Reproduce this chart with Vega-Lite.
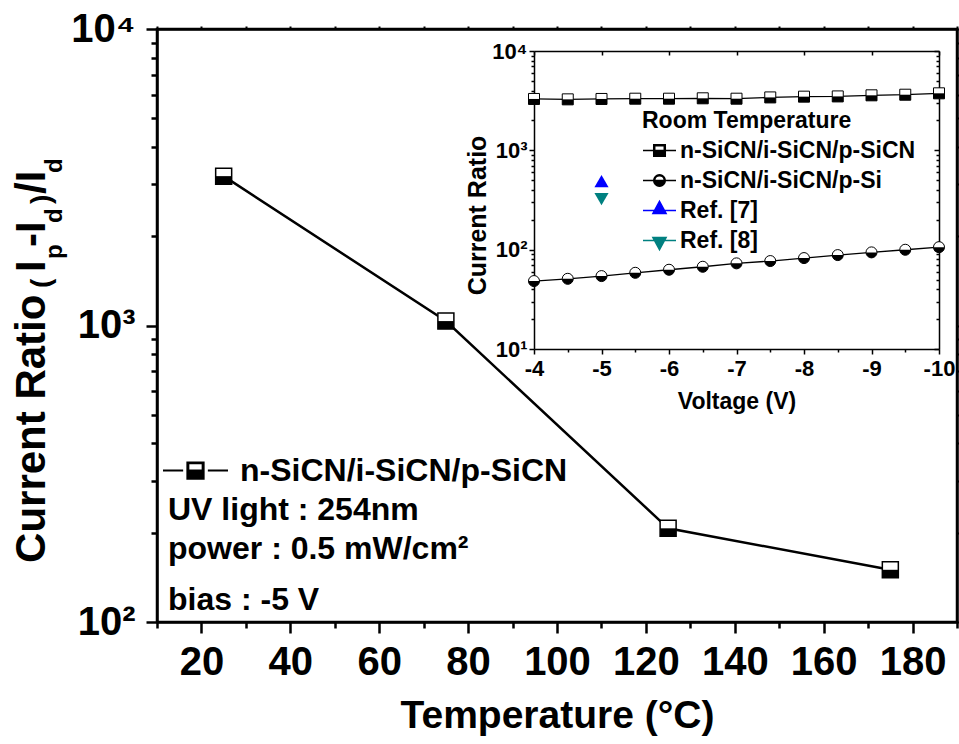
{
  "$schema": "https://vega.github.io/schema/vega-lite/v6.json",
  "width": 800,
  "height": 593,
  "autosize": {"type": "none"},
  "padding": {"left": 157, "top": 29, "right": 2, "bottom": 122},
  "background": "white",
  "config": {
    "font": "Liberation Sans",
    "view": {"stroke": "black", "strokeWidth": 2.5},
    "axis": {"grid": false, "labelFont": "Liberation Sans", "titleFont": "Liberation Sans", "labelFontWeight": "bold", "titleFontWeight": "bold", "labelColor": "black", "titleColor": "black", "domainColor": "black", "tickColor": "black", "labelOverlap": false, "labelFlush": false, "labelBound": false},
    "legend": {"labelFont": "Liberation Sans", "titleFont": "Liberation Sans", "labelFontWeight": "bold", "titleFontWeight": "bold", "labelColor": "black", "titleColor": "black", "labelLimit": 0, "titleLimit": 500},
    "text": {"font": "Liberation Sans", "fontWeight": "bold", "color": "black"}
  },
  "datasets": {
    "main": [
      {"temp": 25, "ratio": 3190, "sample": "n-SiCN/i-SiCN/p-SiCN"},
      {"temp": 75, "ratio": 1035, "sample": "n-SiCN/i-SiCN/p-SiCN"},
      {"temp": 125, "ratio": 207, "sample": "n-SiCN/i-SiCN/p-SiCN"},
      {"temp": 175, "ratio": 150, "sample": "n-SiCN/i-SiCN/p-SiCN"}
    ],
    "inset": [
      {"v": -4, "ratio": 3290, "series": "n-SiCN/i-SiCN/p-SiCN"},
      {"v": -4.5, "ratio": 3260, "series": "n-SiCN/i-SiCN/p-SiCN"},
      {"v": -5, "ratio": 3290, "series": "n-SiCN/i-SiCN/p-SiCN"},
      {"v": -5.5, "ratio": 3310, "series": "n-SiCN/i-SiCN/p-SiCN"},
      {"v": -6, "ratio": 3310, "series": "n-SiCN/i-SiCN/p-SiCN"},
      {"v": -6.5, "ratio": 3340, "series": "n-SiCN/i-SiCN/p-SiCN"},
      {"v": -7, "ratio": 3310, "series": "n-SiCN/i-SiCN/p-SiCN"},
      {"v": -7.5, "ratio": 3410, "series": "n-SiCN/i-SiCN/p-SiCN"},
      {"v": -8, "ratio": 3470, "series": "n-SiCN/i-SiCN/p-SiCN"},
      {"v": -8.5, "ratio": 3490, "series": "n-SiCN/i-SiCN/p-SiCN"},
      {"v": -9, "ratio": 3580, "series": "n-SiCN/i-SiCN/p-SiCN"},
      {"v": -9.5, "ratio": 3630, "series": "n-SiCN/i-SiCN/p-SiCN"},
      {"v": -10, "ratio": 3750, "series": "n-SiCN/i-SiCN/p-SiCN"},
      {"v": -4, "ratio": 48.3, "series": "n-SiCN/i-SiCN/p-Si"},
      {"v": -4.5, "ratio": 50.9, "series": "n-SiCN/i-SiCN/p-Si"},
      {"v": -5, "ratio": 54.2, "series": "n-SiCN/i-SiCN/p-Si"},
      {"v": -5.5, "ratio": 58.5, "series": "n-SiCN/i-SiCN/p-Si"},
      {"v": -6, "ratio": 62.8, "series": "n-SiCN/i-SiCN/p-Si"},
      {"v": -6.5, "ratio": 67.3, "series": "n-SiCN/i-SiCN/p-Si"},
      {"v": -7, "ratio": 72.8, "series": "n-SiCN/i-SiCN/p-Si"},
      {"v": -7.5, "ratio": 76.8, "series": "n-SiCN/i-SiCN/p-Si"},
      {"v": -8, "ratio": 82.3, "series": "n-SiCN/i-SiCN/p-Si"},
      {"v": -8.5, "ratio": 88.2, "series": "n-SiCN/i-SiCN/p-Si"},
      {"v": -9, "ratio": 93.9, "series": "n-SiCN/i-SiCN/p-Si"},
      {"v": -9.5, "ratio": 99.8, "series": "n-SiCN/i-SiCN/p-Si"},
      {"v": -10, "ratio": 106, "series": "n-SiCN/i-SiCN/p-Si"},
      {"v": -5, "ratio": 491, "series": "Ref. [7]"},
      {"v": -5, "ratio": 323, "series": "Ref. [8]"}
    ]
  },
  "layer": [
    {
      "data": {"name": "main"},
      "mark": {"type": "line", "color": "black", "strokeWidth": 2.5},
      "encoding": {
        "x": {"field": "temp", "type": "quantitative", "scale": {"domain": [10, 190], "nice": false, "zero": false},
          "axis": {"orient": "top", "values": [10,20,30,40,50,60,70,80,90,100,110,120,130,140,150,160,170,180,190], "labels": false, "title": null, "tickSize": 3, "tickWidth": 2, "domainWidth": 2.5}},
        "y": {"field": "ratio", "type": "quantitative", "scale": {"type": "log", "domain": [100, 10000], "nice": false},
          "axis": {"orient": "right", "values": [100,200,300,400,500,600,700,800,900,1000,2000,3000,4000,5000,6000,7000,8000,9000,10000], "labels": false, "title": null, "tickSize": 3, "tickWidth": 2, "domainWidth": 2.5}}
      }
    },
    {
      "data": {"name": "main"},
      "layer": [
        {
          "mark": {"type": "point", "shape": "square", "filled": true, "fill": "white", "stroke": "black", "strokeWidth": 1.5, "size": 256, "opacity": 1},
          "encoding": {
            "x": {"field": "temp", "type": "quantitative", "scale": {"domain": [10, 190], "nice": false, "zero": false},
              "axis": {"orient": "bottom", "title": "Temperature (°C)", "values": [10,20,30,40,50,60,70,80,90,100,110,120,130,140,150,160,170,180,190],
                "labelExpr": "datum.value % 20 == 0 ? datum.label : ''",
                "tickSize": {"condition": {"test": "datum.value % 20 == 0", "value": 11}, "value": 6},
                "tickWidth": 2.5, "domainWidth": 2.5, "labelFontSize": 40, "labelPadding": 9,
                "titleFontSize": 39, "titleBaseline": "alphabetic", "titleY": 105}},
            "y": {"field": "ratio", "type": "quantitative", "scale": {"type": "log", "domain": [100, 10000], "nice": false},
              "axis": {"orient": "left", "title": null, "values": [100,200,300,400,500,600,700,800,900,1000,2000,3000,4000,5000,6000,7000,8000,9000,10000],
                "labelExpr": "datum.value == 100 ? '10²' : datum.value == 1000 ? '10³' : datum.value == 10000 ? '10⁴' : ''",
                "tickSize": {"condition": {"test": "datum.value == 100 || datum.value == 1000 || datum.value == 10000", "value": 11}, "value": 6},
                "tickWidth": 2.5, "domainWidth": 2.5, "labelFontSize": 40, "labelPadding": 11}}
          }
        },
        {
          "mark": {"type": "point", "shape": "M-1,0H1V1H-1Z", "filled": true, "fill": "black", "strokeWidth": 0, "size": 256, "opacity": 1},
          "encoding": {"x": {"field": "temp", "type": "quantitative"}, "y": {"field": "ratio", "type": "quantitative"}}
        },
        {
          "mark": {"type": "point", "filled": true, "opacity": 0, "size": 10},
          "encoding": {
            "x": {"field": "temp", "type": "quantitative"},
            "y": {"field": "ratio", "type": "quantitative"},
            "color": {"field": "sample", "type": "nominal", "scale": {"range": ["black"]},
              "legend": {"orient": "none", "legendX": 5, "legendY": 408, "title": null, "padding": 0,
                "symbolType": "M-1,0H-0.38M0.38,0H1M-0.25,-0.25H0.25V0.25H-0.25ZM-0.22,-0.22V0H0.22V-0.22Z",
                "symbolSize": 4225, "symbolStrokeColor": "black", "symbolFillColor": "black", "symbolStrokeWidth": 2, "symbolOpacity": 1,
                "labelFontSize": 32, "labelOffset": 11}}
          }
        },
        {"data": {"values": [{}]}, "mark": {"type": "text", "text": "Current Ratio", "angle": 270, "align": "left", "baseline": "alphabetic", "fontSize": 42},
          "encoding": {"x": {"datum": -15.2, "type": "quantitative"}, "y": {"datum": 158.2, "type": "quantitative"}}},
        {"data": {"values": [{}]}, "mark": {"type": "text", "text": "(", "angle": 270, "align": "left", "baseline": "alphabetic", "fontSize": 28, "dy": 5},
          "encoding": {"x": {"datum": -15.2, "type": "quantitative"}, "y": {"datum": 1338, "type": "quantitative"}}},
        {"data": {"values": [{}]}, "mark": {"type": "text", "text": "I", "angle": 270, "align": "left", "baseline": "alphabetic", "fontSize": 42},
          "encoding": {"x": {"datum": -15.2, "type": "quantitative"}, "y": {"datum": 1515, "type": "quantitative"}}},
        {"data": {"values": [{}]}, "mark": {"type": "text", "text": "p", "angle": 270, "align": "left", "baseline": "alphabetic", "fontSize": 24, "dy": 17},
          "encoding": {"x": {"datum": -15.2, "type": "quantitative"}, "y": {"datum": 1676, "type": "quantitative"}}},
        {"data": {"values": [{}]}, "mark": {"type": "text", "text": "-I", "angle": 270, "align": "left", "baseline": "alphabetic", "fontSize": 42},
          "encoding": {"x": {"datum": -15.2, "type": "quantitative"}, "y": {"datum": 1840, "type": "quantitative"}}},
        {"data": {"values": [{}]}, "mark": {"type": "text", "text": "d", "angle": 270, "align": "left", "baseline": "alphabetic", "fontSize": 24, "dy": 17},
          "encoding": {"x": {"datum": -15.2, "type": "quantitative"}, "y": {"datum": 2217, "type": "quantitative"}}},
        {"data": {"values": [{}]}, "mark": {"type": "text", "text": ")", "angle": 270, "align": "left", "baseline": "alphabetic", "fontSize": 28, "dy": 5},
          "encoding": {"x": {"datum": -15.2, "type": "quantitative"}, "y": {"datum": 2569, "type": "quantitative"}}},
        {"data": {"values": [{}]}, "mark": {"type": "text", "text": "/I", "angle": 270, "align": "left", "baseline": "alphabetic", "fontSize": 42},
          "encoding": {"x": {"datum": -15.2, "type": "quantitative"}, "y": {"datum": 2776, "type": "quantitative"}}},
        {"data": {"values": [{}]}, "mark": {"type": "text", "text": "d", "angle": 270, "align": "left", "baseline": "alphabetic", "fontSize": 24, "dy": 17},
          "encoding": {"x": {"datum": -15.2, "type": "quantitative"}, "y": {"datum": 3268, "type": "quantitative"}}},
        {"data": {"values": [{}]}, "mark": {"type": "text", "text": "UV light : 254nm", "align": "left", "baseline": "alphabetic", "fontSize": 32},
          "encoding": {"x": {"datum": 12.475, "type": "quantitative"}, "y": {"datum": 220.8, "type": "quantitative"}}},
        {"data": {"values": [{}]}, "mark": {"type": "text", "text": "power : 0.5 mW/cm²", "align": "left", "baseline": "alphabetic", "fontSize": 32},
          "encoding": {"x": {"datum": 12.475, "type": "quantitative"}, "y": {"datum": 163.1, "type": "quantitative"}}},
        {"data": {"values": [{}]}, "mark": {"type": "text", "text": "bias : -5 V", "align": "left", "baseline": "alphabetic", "fontSize": 32},
          "encoding": {"x": {"datum": 12.475, "type": "quantitative"}, "y": {"datum": 109.8, "type": "quantitative"}}}
      ]
    },
    {
      "data": {"name": "inset"},
      "transform": [{"filter": "datum.series == 'n-SiCN/i-SiCN/p-SiCN' || datum.series == 'n-SiCN/i-SiCN/p-Si'"}],
      "mark": {"type": "line", "color": "black", "strokeWidth": 1.3},
      "encoding": {
        "x": {"field": "v", "type": "quantitative", "scale": {"domain": [-10, -4], "reverse": true, "range": [377, 782], "nice": false, "zero": false},
          "axis": {"orient": "top", "offset": -22, "values": [-10,-9,-8,-7,-6,-5,-4], "labels": false, "title": null, "tickSize": -4, "tickWidth": 1.5, "domainWidth": 1.5}},
        "y": {"field": "ratio", "type": "quantitative", "scale": {"type": "log", "domain": [10, 10000], "range": [320, 22], "nice": false},
          "axis": {"orient": "right", "offset": -18, "values": [10,20,30,40,50,60,70,80,90,100,200,300,400,500,600,700,800,900,1000,2000,3000,4000,5000,6000,7000,8000,9000,10000], "labels": false, "title": null,
            "tickSize": {"condition": {"test": "datum.value == 10 || datum.value == 100 || datum.value == 1000 || datum.value == 10000", "value": -5}, "value": -3}, "tickWidth": 1.5, "domainWidth": 1.5}},
        "detail": {"field": "series", "type": "nominal"}
      }
    },
    {
      "data": {"name": "inset"},
      "layer": [
        {
          "transform": [{"filter": "datum.series == 'n-SiCN/i-SiCN/p-SiCN'"}],
          "mark": {"type": "point", "shape": "square", "filled": true, "fill": "white", "stroke": "black", "strokeWidth": 1, "size": 121, "opacity": 1},
          "encoding": {
            "x": {"field": "v", "type": "quantitative", "scale": {"domain": [-10, -4], "reverse": true, "range": [377, 782], "nice": false, "zero": false},
              "axis": {"orient": "bottom", "offset": -273, "title": "Voltage (V)", "values": [-10,-9.5,-9,-8.5,-8,-7.5,-7,-6.5,-6,-5.5,-5,-4.5,-4],
                "labelExpr": "datum.value % 1 == 0 ? '' + datum.value : ''",
                "tickSize": {"condition": {"test": "datum.value % 1 == 0", "value": 5}, "value": 3},
                "tickWidth": 1.5, "domainWidth": 1.5, "labelFontSize": 22, "labelPadding": 4,
                "titleFontSize": 23, "titleBaseline": "alphabetic", "titleY": 59}},
            "y": {"field": "ratio", "type": "quantitative", "scale": {"type": "log", "domain": [10, 10000], "range": [320, 22], "nice": false},
              "axis": {"orient": "left", "offset": -377, "title": "Current Ratio", "values": [10,20,30,40,50,60,70,80,90,100,200,300,400,500,600,700,800,900,1000,2000,3000,4000,5000,6000,7000,8000,9000,10000],
                "labelExpr": "datum.value == 10 ? '10¹' : datum.value == 100 ? '10²' : datum.value == 1000 ? '10³' : datum.value == 10000 ? '10⁴' : ''",
                "tickSize": {"condition": {"test": "datum.value == 10 || datum.value == 100 || datum.value == 1000 || datum.value == 10000", "value": 5}, "value": 3},
                "tickWidth": 1.5, "domainWidth": 1.5, "labelFontSize": 22, "labelPadding": 2,
                "titleFontSize": 25, "titleBaseline": "alphabetic", "titleX": -49, "titleY": 186}}
          }
        },
        {
          "transform": [{"filter": "datum.series == 'n-SiCN/i-SiCN/p-SiCN'"}],
          "mark": {"type": "point", "shape": "M-1,0H1V1H-1Z", "filled": true, "fill": "black", "strokeWidth": 0, "size": 121, "opacity": 1},
          "encoding": {"x": {"field": "v", "type": "quantitative"}, "y": {"field": "ratio", "type": "quantitative"}}
        },
        {
          "transform": [{"filter": "datum.series == 'n-SiCN/i-SiCN/p-Si'"}],
          "mark": {"type": "point", "shape": "circle", "filled": true, "fill": "white", "stroke": "black", "strokeWidth": 1, "size": 121, "opacity": 1},
          "encoding": {"x": {"field": "v", "type": "quantitative"}, "y": {"field": "ratio", "type": "quantitative"}}
        },
        {
          "transform": [{"filter": "datum.series == 'n-SiCN/i-SiCN/p-Si'"}],
          "mark": {"type": "point", "shape": "M-1,0A1,1 0 0,0 1,0Z", "filled": true, "fill": "black", "strokeWidth": 0, "size": 121, "opacity": 1},
          "encoding": {"x": {"field": "v", "type": "quantitative"}, "y": {"field": "ratio", "type": "quantitative"}}
        },
        {
          "transform": [{"filter": "datum.series == 'Ref. [7]'"}],
          "mark": {"type": "point", "shape": "triangle-up", "filled": true, "fill": "#0000ff", "strokeWidth": 0, "size": 200, "opacity": 1},
          "encoding": {"x": {"field": "v", "type": "quantitative"}, "y": {"field": "ratio", "type": "quantitative"}}
        },
        {
          "transform": [{"filter": "datum.series == 'Ref. [8]'"}],
          "mark": {"type": "point", "shape": "triangle-down", "filled": true, "fill": "#008080", "strokeWidth": 0, "size": 200, "opacity": 1},
          "encoding": {"x": {"field": "v", "type": "quantitative"}, "y": {"field": "ratio", "type": "quantitative"}}
        },
        {
          "mark": {"type": "point", "filled": true, "opacity": 0, "size": 10},
          "encoding": {
            "x": {"field": "v", "type": "quantitative"},
            "y": {"field": "ratio", "type": "quantitative"},
            "shape": {"field": "series", "type": "nominal",
              "scale": {"domain": ["n-SiCN/i-SiCN/p-SiCN", "n-SiCN/i-SiCN/p-Si", "Ref. [7]", "Ref. [8]"],
                "range": ["M-1,0H-0.35M0.35,0H1M-0.35,-0.35H0.35V0.35H-0.35ZM-0.29,-0.29V0H0.29V-0.29Z",
                          "M-1,0H-0.35M0.35,0H1M-0.35,0A0.35,0.35 0 1,0 0.35,0A0.35,0.35 0 1,0 -0.35,0ZM-0.29,0A0.29,0.29 0 0,1 0.29,0Z",
                          "M-1,0H1M0,-0.55L0.4,0.18H-0.4Z",
                          "M-1,0H1M-0.4,-0.18H0.4L0,0.55Z"]},
              "legend": {"orient": "none", "legendX": 485, "legendY": 81, "title": "Room Temperature", "titleFontSize": 23, "titlePadding": 0, "padding": 0,
                "symbolSize": 1089, "symbolStrokeWidth": 1.5, "symbolOpacity": 1, "labelFontSize": 23, "labelOffset": 3, "rowPadding": -5.5}},
            "fill": {"field": "series", "type": "nominal",
              "scale": {"domain": ["n-SiCN/i-SiCN/p-SiCN", "n-SiCN/i-SiCN/p-Si", "Ref. [7]", "Ref. [8]"], "range": ["black", "black", "#0000ff", "#008080"]},
              "legend": {"orient": "none", "legendX": 485, "legendY": 81, "title": "Room Temperature", "titleFontSize": 23, "titlePadding": 0, "padding": 0,
                "symbolSize": 1089, "symbolStrokeWidth": 1.5, "symbolOpacity": 1, "labelFontSize": 23, "labelOffset": 3, "rowPadding": -5.5}},
            "stroke": {"field": "series", "type": "nominal",
              "scale": {"domain": ["n-SiCN/i-SiCN/p-SiCN", "n-SiCN/i-SiCN/p-Si", "Ref. [7]", "Ref. [8]"], "range": ["black", "black", "#0000ff", "#008080"]},
              "legend": {"orient": "none", "legendX": 485, "legendY": 81, "title": "Room Temperature", "titleFontSize": 23, "titlePadding": 0, "padding": 0,
                "symbolSize": 1089, "symbolStrokeWidth": 1.5, "symbolOpacity": 1, "labelFontSize": 23, "labelOffset": 3, "rowPadding": -5.5}}
          }
        }
      ]
    }
  ],
  "resolve": {"scale": {"x": "independent", "y": "independent"}}
}
